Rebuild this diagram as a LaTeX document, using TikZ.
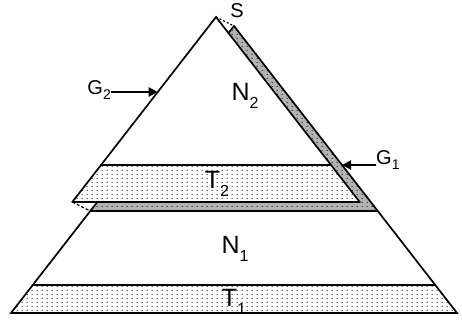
\documentclass[tikz,border=0pt]{standalone}
\usepackage{fontspec}
\setmainfont{Liberation Sans}
\usetikzlibrary{patterns,arrows.meta}
\pgfdeclarepatternformonly{sparsedots}{\pgfpointorigin}{\pgfpoint{5pt}{4pt}}{\pgfpoint{5pt}{4pt}}{\pgfpathcircle{\pgfpoint{2.5pt}{2pt}}{0.7pt}\pgfusepath{fill}}
\newcommand\lbsub[1]{\raisebox{-0.3em}{\fontsize{16}{16}\selectfont #1}}
\newcommand\smsub[1]{\raisebox{-0.25em}{\fontsize{14}{14}\selectfont #1}}
\begin{document}
\begin{tikzpicture}[x=1pt,y=-1pt,
  edge/.style={line width=1.7pt, line join=miter, line cap=round},
  big/.style={font=\fontsize{25}{25}\selectfont, inner sep=0pt},
  small/.style={font=\fontsize{20}{20}\selectfont, inner sep=0pt},
  arr/.style={line width=2.8pt, -{Triangle[length=9pt,width=9pt]}}]
\useasboundingbox (0,0) rectangle (462,328);
% lower block L
\coordinate (LA) at (234,26);
\coordinate (Ll202) at (97.3,202);
\coordinate (Ll211) at (90.3,211);
\coordinate (Lr211) at (377.7,211);
\coordinate (Ll285) at (32.8,285);
\coordinate (Lr285) at (435.2,285);
\coordinate (Ll313) at (11,313);
\coordinate (Lr313) at (457,313);
\coordinate (Ltop) at (228.5,33.1);
% upper block U (shifted)
\coordinate (UA) at (216,17);
\coordinate (Ul165) at (101,165);
\coordinate (Ur165) at (331,165);
\coordinate (Ul202) at (72.3,202);
\coordinate (Ur202) at (359.7,202);
\coordinate (G2tip) at (157.7,92);
\coordinate (G1tip) at (342,165);
% fills
\fill[gray!60] (LA) -- (Lr211) -- (Ll211) -- cycle;
\fill[pattern=sparsedots] (LA) -- (Lr211) -- (Ll211) -- cycle;
\fill[white] (UA) -- (Ur202) -- (Ul202) -- cycle;
\fill[pattern=sparsedots] (Ul165) -- (Ur165) -- (Ur202) -- (Ul202) -- cycle;
\fill[pattern=sparsedots] (Ll285) -- (Lr285) -- (Lr313) -- (Ll313) -- cycle;
% outlines
\draw[edge] (Ul202) -- (UA) -- (Ur202);
\draw[edge] (Ul165) -- (Ur165);
\draw[edge] (Ul202) -- (Ur202);
\draw[edge] (Ll211) -- (Lr211);
\draw[edge] (LA) -- (Lr313) -- (Ll313) -- (Ll202);
\draw[edge] (LA) -- (Ltop);
\draw[edge] (Ll285) -- (Lr285);
\draw[line width=1.2pt, dash pattern=on 2pt off 2pt] (UA) -- (LA);
\draw[line width=1.2pt, dash pattern=on 3pt off 2pt] (Ul202) -- (Ll211);
% labels
\node[big] (N2) at (245,96) {N\lbsub{2}};
\node[big] (T2) at (217,184) {T\lbsub{2}};
\node[big] (N1) at (235,249) {N\lbsub{1}};
\node[big] (T1) at (234,302) {T\lbsub{1}};
\node[small] (S) at (237,11) {S};
\node[small, anchor=east] (G2) at (111,90) {G\smsub{2}};
\node[small, anchor=west] (G1) at (376,160) {G\smsub{1}};
\draw[arr] (G2.east |- G2tip) -- (G2tip);
\draw[arr] (G1.west |- G1tip) -- (G1tip);
\end{tikzpicture}
\end{document}
